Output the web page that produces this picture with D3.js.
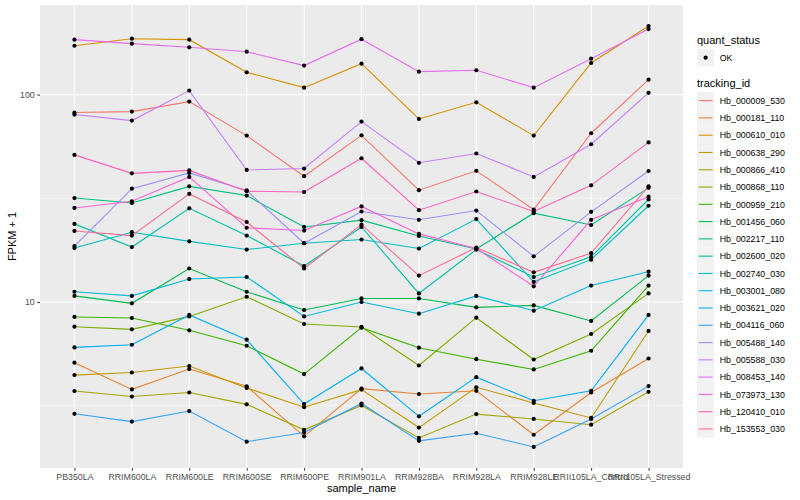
<!DOCTYPE html>
<html>
<head>
<meta charset="utf-8">
<script src="https://cdn.jsdelivr.net/npm/d3@7"></script>
<style>
  body { margin: 0; background: #fff; }
  text { font-family: "Liberation Sans", Arial, sans-serif; }
</style>
</head>
<body>
<div id="chart"></div>
<script>
// categories on the x axis
var sampleNames = ["PB350LA", "RRIM600LA", "RRIM600LE", "RRIM600SE", "RRIM600PE", "RRIM901LA",
  "RRIM928BA", "RRIM928LA", "RRIM928LE", "RRII105LA_Control", "RRII105LA_Stressed"];

var trackingIds = ["Hb_000009_530", "Hb_000181_110", "Hb_000610_010", "Hb_000638_290", "Hb_000866_410",
  "Hb_000868_110", "Hb_000959_210", "Hb_001456_060", "Hb_002217_110", "Hb_002600_020",
  "Hb_002740_030", "Hb_003001_080", "Hb_003621_020", "Hb_004116_060", "Hb_005488_140",
  "Hb_005588_030", "Hb_008453_140", "Hb_073973_130", "Hb_120410_010", "Hb_153553_030"];

// FPKM + 1 per sample, one array per gene
var hb_000009_530 = [81.9, 82.8, 92.5, 63.4, 40.4, 63.6, 34.6, 42.9, 27.9, 65.1, 118];
var hb_000181_110 = [5.10, 3.79, 4.75, 3.92, 2.25, 3.82, 3.60, 3.73, 2.29, 3.66, 5.34];
var hb_000610_010 = [172, 186, 184, 128, 108, 141, 76.3, 91.8, 63.4, 142, 214];
var hb_000638_290 = [4.44, 4.57, 4.91, 3.85, 3.11, 3.78, 2.48, 3.88, 3.26, 2.76, 7.25];
var hb_000866_410 = [3.72, 3.50, 3.66, 3.21, 2.42, 3.17, 2.21, 2.88, 2.73, 2.56, 3.69];
var hb_000868_110 = [7.60, 7.38, 8.52, 10.6, 7.83, 7.58, 4.94, 8.40, 5.28, 7.01, 11.0];
var hb_000959_210 = [8.47, 8.37, 7.30, 6.15, 4.49, 7.52, 6.02, 5.30, 4.73, 5.82, 12.0];
var hb_001456_060 = [10.7, 9.85, 14.5, 11.2, 9.15, 10.4, 10.4, 9.42, 9.63, 8.10, 13.4];
var hb_002217_110 = [31.7, 30.0, 36.1, 32.6, 23.0, 24.8, 20.8, 18.0, 26.8, 23.5, 35.5];
var hb_002600_020 = [23.8, 18.4, 28.3, 20.9, 14.9, 23.0, 11.0, 17.9, 13.2, 16.5, 31.2];
var hb_002740_030 = [18.2, 21.7, 19.6, 17.9, 19.2, 20.0, 18.1, 25.1, 12.5, 16.0, 29.1];
var hb_003001_080 = [11.2, 10.7, 12.9, 13.2, 8.52, 10.0, 8.78, 10.7, 9.08, 12.0, 14.0];
var hb_003621_020 = [6.04, 6.22, 8.66, 6.58, 3.22, 4.78, 2.81, 4.34, 3.34, 3.73, 8.66];
var hb_004116_060 = [2.89, 2.65, 2.98, 2.12, 2.35, 3.24, 2.14, 2.33, 2.00, 2.73, 3.93];
var hb_005488_140 = [18.6, 35.2, 41.9, 34.5, 19.2, 27.3, 24.9, 27.6, 16.6, 27.2, 42.8];
var hb_005588_030 = [80.1, 74.9, 104.5, 43.3, 44.0, 74.1, 46.9, 52.0, 40.1, 57.6, 102];
var hb_008453_140 = [184, 176, 169, 161, 138, 185, 129, 131, 108, 149, 207];
var hb_073973_130 = [28.4, 30.6, 40.1, 22.8, 22.1, 28.9, 21.3, 18.1, 11.9, 24.9, 32.2];
var hb_120410_010 = [51.2, 41.7, 43.1, 34.2, 33.9, 49.3, 27.7, 34.1, 27.3, 36.5, 58.8];
var hb_153553_030 = [22.0, 20.9, 33.2, 24.3, 14.5, 23.6, 13.4, 18.3, 13.9, 17.2, 36.1];

var quantStatus = ["OK"];
var yTicks = [10, 100];

var seriesValues = [hb_000009_530, hb_000181_110, hb_000610_010, hb_000638_290, hb_000866_410,
  hb_000868_110, hb_000959_210, hb_001456_060, hb_002217_110, hb_002600_020,
  hb_002740_030, hb_003001_080, hb_003621_020, hb_004116_060, hb_005488_140,
  hb_005588_030, hb_008453_140, hb_073973_130, hb_120410_010, hb_153553_030];

// ggplot default hue palette for 20 groups
var palette = ["#F8766D", "#EA8331", "#D89000", "#C09B00", "#A3A500", "#7CAE00", "#39B600", "#00BB4E",
  "#00BF7D", "#00C1A3", "#00BFC4", "#00BAE0", "#00B0F6", "#35A2FF", "#9590FF", "#C77CFF",
  "#E76BF3", "#FA62DB", "#FF62BC", "#FF6C91"];

var series = trackingIds.map(function (id, i) {
  return {
    id: id,
    color: palette[i],
    points: sampleNames.map(function (s, j) { return { sample: s, value: seriesValues[i][j] }; })
  };
});

var svgWidth = 800;
var svgHeight = 500;
var margin = { top: 5, right: 117, bottom: 32, left: 40 };
var chartWidth = svgWidth - margin.left - margin.right;
var chartHeight = svgHeight - margin.top - margin.bottom;

var svg = d3.select("#chart")
  .append("svg")
  .attr("width", svgWidth)
  .attr("height", svgHeight);

var chart = svg.append("g")
  .attr("transform", "translate(" + margin.left + "," + margin.top + ")");

// x: discrete, 0.6 step padding on both sides like ggplot
var xScale = d3.scalePoint()
  .domain(sampleNames)
  .range([0, chartWidth])
  .padding(0.6);

// y: log10 with 5% expansion
var allValues = d3.merge(seriesValues);
var logExt = d3.extent(allValues, function (d) { return Math.log10(d); });
var pad = (logExt[1] - logExt[0]) * 0.05;
var yScale = d3.scaleLog()
  .domain([Math.pow(10, logExt[0] - pad), Math.pow(10, logExt[1] + pad)])
  .range([chartHeight, 0]);

// panel background
chart.append("rect")
  .attr("width", chartWidth)
  .attr("height", chartHeight)
  .attr("fill", "#EBEBEB");

// minor grid (half decades)
var minorTicks = [Math.sqrt(10), Math.sqrt(1000)];
chart.selectAll(".minor")
  .data(minorTicks)
  .enter()
  .append("line")
  .attr("x1", 0)
  .attr("x2", chartWidth)
  .attr("y1", function (d) { return yScale(d); })
  .attr("y2", function (d) { return yScale(d); })
  .attr("stroke", "#fff")
  .attr("stroke-width", 0.55);

// major grid
chart.selectAll(".majorY")
  .data(yTicks)
  .enter()
  .append("line")
  .attr("x1", 0)
  .attr("x2", chartWidth)
  .attr("y1", function (d) { return yScale(d); })
  .attr("y2", function (d) { return yScale(d); })
  .attr("stroke", "#fff")
  .attr("stroke-width", 1.1);

chart.selectAll(".majorX")
  .data(sampleNames)
  .enter()
  .append("line")
  .attr("x1", function (d) { return xScale(d); })
  .attr("x2", function (d) { return xScale(d); })
  .attr("y1", 0)
  .attr("y2", chartHeight)
  .attr("stroke", "#fff")
  .attr("stroke-width", 1.1);

// lines
var line = d3.line()
  .x(function (d) { return xScale(d.sample); })
  .y(function (d) { return yScale(d.value); });

chart.selectAll(".series")
  .data(series)
  .enter()
  .append("path")
  .attr("d", function (d) { return line(d.points); })
  .attr("fill", "none")
  .attr("stroke", function (d) { return d.color; })
  .attr("stroke-width", 1.1);

// points
chart.selectAll(".pts")
  .data(series)
  .enter()
  .append("g")
  .selectAll("circle")
  .data(function (d) { return d.points; })
  .enter()
  .append("circle")
  .attr("cx", function (d) { return xScale(d.sample); })
  .attr("cy", function (d) { return yScale(d.value); })
  .attr("r", 2.1)
  .attr("fill", "#000");

// axes
var xAxis = chart.append("g")
  .attr("transform", "translate(0," + chartHeight + ")")
  .call(d3.axisBottom(xScale).tickSize(2.75).tickPadding(3));
var yAxis = chart.append("g")
  .call(d3.axisLeft(yScale).tickValues(yTicks).tickFormat(d3.format("d")).tickSize(2.75).tickPadding(2.5));

[xAxis, yAxis].forEach(function (ax) {
  ax.select(".domain").remove();
  ax.selectAll(".tick line").attr("stroke", "#333").attr("stroke-width", 1);
  ax.selectAll(".tick text")
    .attr("fill", "#4D4D4D")
    .style("font-size", "8.8px")
    .style("font-family", "'Liberation Sans', Arial, sans-serif");
});

// axis titles
svg.append("text")
  .attr("x", margin.left + chartWidth / 2)
  .attr("y", 492)
  .attr("text-anchor", "middle")
  .style("font-size", "11px")
  .text("sample_name");

svg.append("text")
  .attr("transform", "translate(16," + (margin.top + chartHeight / 2) + ") rotate(-90)")
  .attr("text-anchor", "middle")
  .style("font-size", "11px")
  .text("FPKM + 1");

// legend
var legend = svg.append("g").attr("transform", "translate(697,0)");
var keySize = 17.28;

legend.append("text")
  .attr("x", 0)
  .attr("y", 44)
  .style("font-size", "11px")
  .text("quant_status");

var qs = legend.selectAll(".qs")
  .data(quantStatus)
  .enter()
  .append("g")
  .attr("transform", function (d, i) { return "translate(0," + (49 + i * keySize) + ")"; });
qs.append("rect")
  .attr("width", keySize)
  .attr("height", keySize)
  .attr("fill", "#F2F2F2");
qs.append("circle")
  .attr("cx", keySize / 2)
  .attr("cy", keySize / 2)
  .attr("r", 2.1)
  .attr("fill", "#000");
qs.append("text")
  .attr("x", keySize + 5.5)
  .attr("y", keySize / 2 + 3.2)
  .style("font-size", "8.8px")
  .text(function (d) { return d; });

legend.append("text")
  .attr("x", 0)
  .attr("y", 87)
  .style("font-size", "11px")
  .text("tracking_id");

var keys = legend.selectAll(".key")
  .data(series)
  .enter()
  .append("g")
  .attr("transform", function (d, i) { return "translate(0," + (92 + i * keySize) + ")"; });
keys.append("rect")
  .attr("width", keySize)
  .attr("height", keySize)
  .attr("fill", "#F2F2F2");
keys.append("line")
  .attr("x1", 1.7)
  .attr("x2", keySize - 1.7)
  .attr("y1", keySize / 2)
  .attr("y2", keySize / 2)
  .attr("stroke", function (d) { return d.color; })
  .attr("stroke-width", 1.1);
keys.append("text")
  .attr("x", keySize + 5.5)
  .attr("y", keySize / 2 + 3.2)
  .style("font-size", "8.8px")
  .text(function (d) { return d.id; });
</script>
</body>
</html>
